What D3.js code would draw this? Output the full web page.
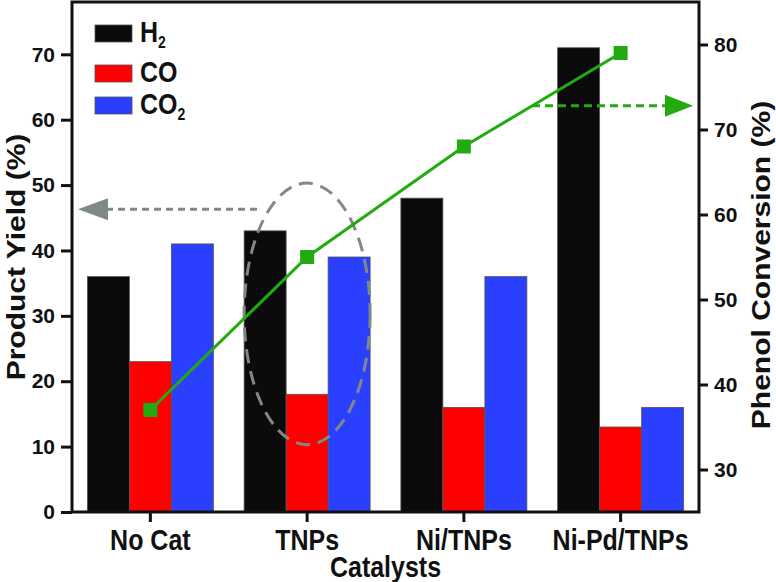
<!DOCTYPE html>
<html lang="en">

<head>
  <meta charset="utf-8">
  <title>Product Yield and Phenol Conversion</title>
  <script src="https://d3js.org/d3.v7.min.js"></script>
  <style>
    body { margin: 0; background: #fff; }
    text { font-family: "Liberation Sans", Arial, sans-serif; font-weight: bold; fill: #111; }
  </style>
</head>

<body>
  <svg width="776" height="582"></svg>
  <script>
    const categories = ["No Cat", "TNPs", "Ni/TNPs", "Ni-Pd/TNPs"];
    const h2Yield = [36, 43, 48, 71];
    const coYield = [23, 18, 16, 13];
    const co2Yield = [41, 39, 36, 16];
    const phenolConversion = [37, 55, 68, 79];
    const leftTicks = [0, 10, 20, 30, 40, 50, 60, 70];
    const rightTicks = [30, 40, 50, 60, 70, 80];

    const svg = d3.select("svg");
    const plotLeft = 72, plotRight = 699, plotTop = 2, plotBottom = 512;
    const stretch = 1.15; // text in the figure is a bit taller than wide

    const x = d3.scaleBand().domain(categories).range([plotLeft, plotRight]).padding(0);
    const yL = d3.scaleLinear().domain([0, 78]).range([plotBottom, plotTop]);
    const yR = d3.scaleLinear().domain([25, 85]).range([plotBottom, plotTop]);

    const barW = 42;
    const series = [
      { key: "H2", values: h2Yield, color: "#0b0b0b", off: -1.5 },
      { key: "CO", values: coYield, color: "#fe0000", off: -0.5 },
      { key: "CO2", values: co2Yield, color: "#2b40ff", off: 0.5 }
    ];

    // bars
    series.forEach(s => {
      svg.append("g").selectAll("rect")
        .data(s.values)
        .join("rect")
        .attr("x", (d, i) => x(categories[i]) + x.bandwidth() / 2 + s.off * barW)
        .attr("y", d => yL(d))
        .attr("width", barW)
        .attr("height", d => yL(0) - yL(d))
        .attr("fill", s.color)
        .attr("stroke", "#555")
        .attr("stroke-width", 0.8);
    });

    // grey dashed ellipse round the TNPs group
    svg.append("ellipse")
      .attr("cx", x("TNPs") + x.bandwidth() / 2)
      .attr("cy", yL(30.3))
      .attr("rx", 63)
      .attr("ry", yL(0) - yL(20))
      .attr("fill", "none")
      .attr("stroke", "#7f8a88")
      .attr("stroke-width", 3)
      .attr("stroke-dasharray", "14,8");

    // grey dashed arrow to left axis
    const gy = yL(46.3);
    svg.append("line")
      .attr("x1", 106).attr("x2", 262).attr("y1", gy).attr("y2", gy)
      .attr("stroke", "#7f8a88").attr("stroke-width", 3).attr("stroke-dasharray", "7,5");
    svg.append("path")
      .attr("d", `M78,${gy} L108,${gy - 11} L108,${gy + 11} Z`)
      .attr("fill", "#7f8a88");

    // green dashed arrow to right axis
    const ay = yR(72.8);
    svg.append("line")
      .attr("x1", 532).attr("x2", 668).attr("y1", ay).attr("y2", ay)
      .attr("stroke", "#22aa11").attr("stroke-width", 3).attr("stroke-dasharray", "8,5");
    svg.append("path")
      .attr("d", `M693,${ay} L665,${ay - 11} L665,${ay + 11} Z`)
      .attr("fill", "#22aa11");

    // conversion line
    const line = d3.line()
      .x((d, i) => x(categories[i]) + x.bandwidth() / 2)
      .y(d => yR(d));
    svg.append("path")
      .datum(phenolConversion)
      .attr("d", line)
      .attr("fill", "none")
      .attr("stroke", "#22aa11")
      .attr("stroke-width", 3);
    svg.append("g").selectAll("rect")
      .data(phenolConversion)
      .join("rect")
      .attr("x", (d, i) => x(categories[i]) + x.bandwidth() / 2 - 7)
      .attr("y", d => yR(d) - 7)
      .attr("width", 14)
      .attr("height", 14)
      .attr("fill", "#22aa11");

    // frame
    svg.append("rect")
      .attr("x", plotLeft).attr("y", plotTop)
      .attr("width", plotRight - plotLeft).attr("height", plotBottom - plotTop)
      .attr("fill", "none").attr("stroke", "#111").attr("stroke-width", 3);

    // axes
    const axL = svg.append("g").attr("transform", `translate(${plotLeft},0)`)
      .call(d3.axisLeft(yL).tickValues(leftTicks).tickSize(11).tickPadding(6));
    const axR = svg.append("g").attr("transform", `translate(${plotRight},0)`)
      .call(d3.axisRight(yR).tickValues(rightTicks).tickSize(9).tickPadding(6));
    const axB = svg.append("g").attr("transform", `translate(0,${plotBottom})`)
      .call(d3.axisBottom(x).tickSize(10));
    [axL, axR, axB].forEach(a => {
      a.select(".domain").remove();
      a.selectAll(".tick line").attr("stroke", "#111").attr("stroke-width", 3);
      a.selectAll(".tick text").attr("font-size", 21).attr("fill", "#111")
        .style("font-family", "'Liberation Sans', Arial, sans-serif").style("font-weight", "bold");
    });
    axB.selectAll(".tick text")
      .attr("font-size", 25)
      .attr("y", null).attr("dy", null)
      .attr("transform", `translate(0,38) scale(1,${stretch})`);

    // axis titles
    svg.append("text")
      .attr("transform", `translate(25,${(plotTop + plotBottom) / 2}) rotate(-90) scale(1.2,1)`)
      .attr("text-anchor", "middle").attr("font-size", 25)
      .text("Product Yield (%)");
    svg.append("text")
      .attr("transform", `translate(770,${(plotTop + plotBottom) / 2 + 8}) rotate(-90) scale(1.2,1)`)
      .attr("text-anchor", "middle").attr("font-size", 25)
      .text("Phenol Conversion (%)");
    svg.append("text")
      .attr("transform", `translate(${(plotLeft + plotRight) / 2},577) scale(1,${stretch})`)
      .attr("text-anchor", "middle").attr("font-size", 25)
      .text("Catalysts");

    // legend
    const legendRows = [0, 40, 72];
    const legend = svg.append("g").attr("transform", "translate(95,25)");
    series.forEach((s, i) => {
      const g = legend.append("g").attr("transform", `translate(0,${legendRows[i]})`);
      g.append("rect").attr("width", 37).attr("height", 17)
        .attr("fill", s.color).attr("stroke", "#555").attr("stroke-width", 0.8);
      const t = g.append("text")
        .attr("transform", `translate(45,17) scale(1,${stretch})`)
        .attr("font-size", 25);
      if (s.key === "H2") {
        t.append("tspan").text("H");
        t.append("tspan").attr("dy", 5).attr("font-size", 14).text("2");
      } else if (s.key === "CO2") {
        t.append("tspan").text("CO");
        t.append("tspan").attr("dy", 5).attr("font-size", 14).text("2");
      } else {
        t.text("CO");
      }
    });
  </script>
</body>

</html>
